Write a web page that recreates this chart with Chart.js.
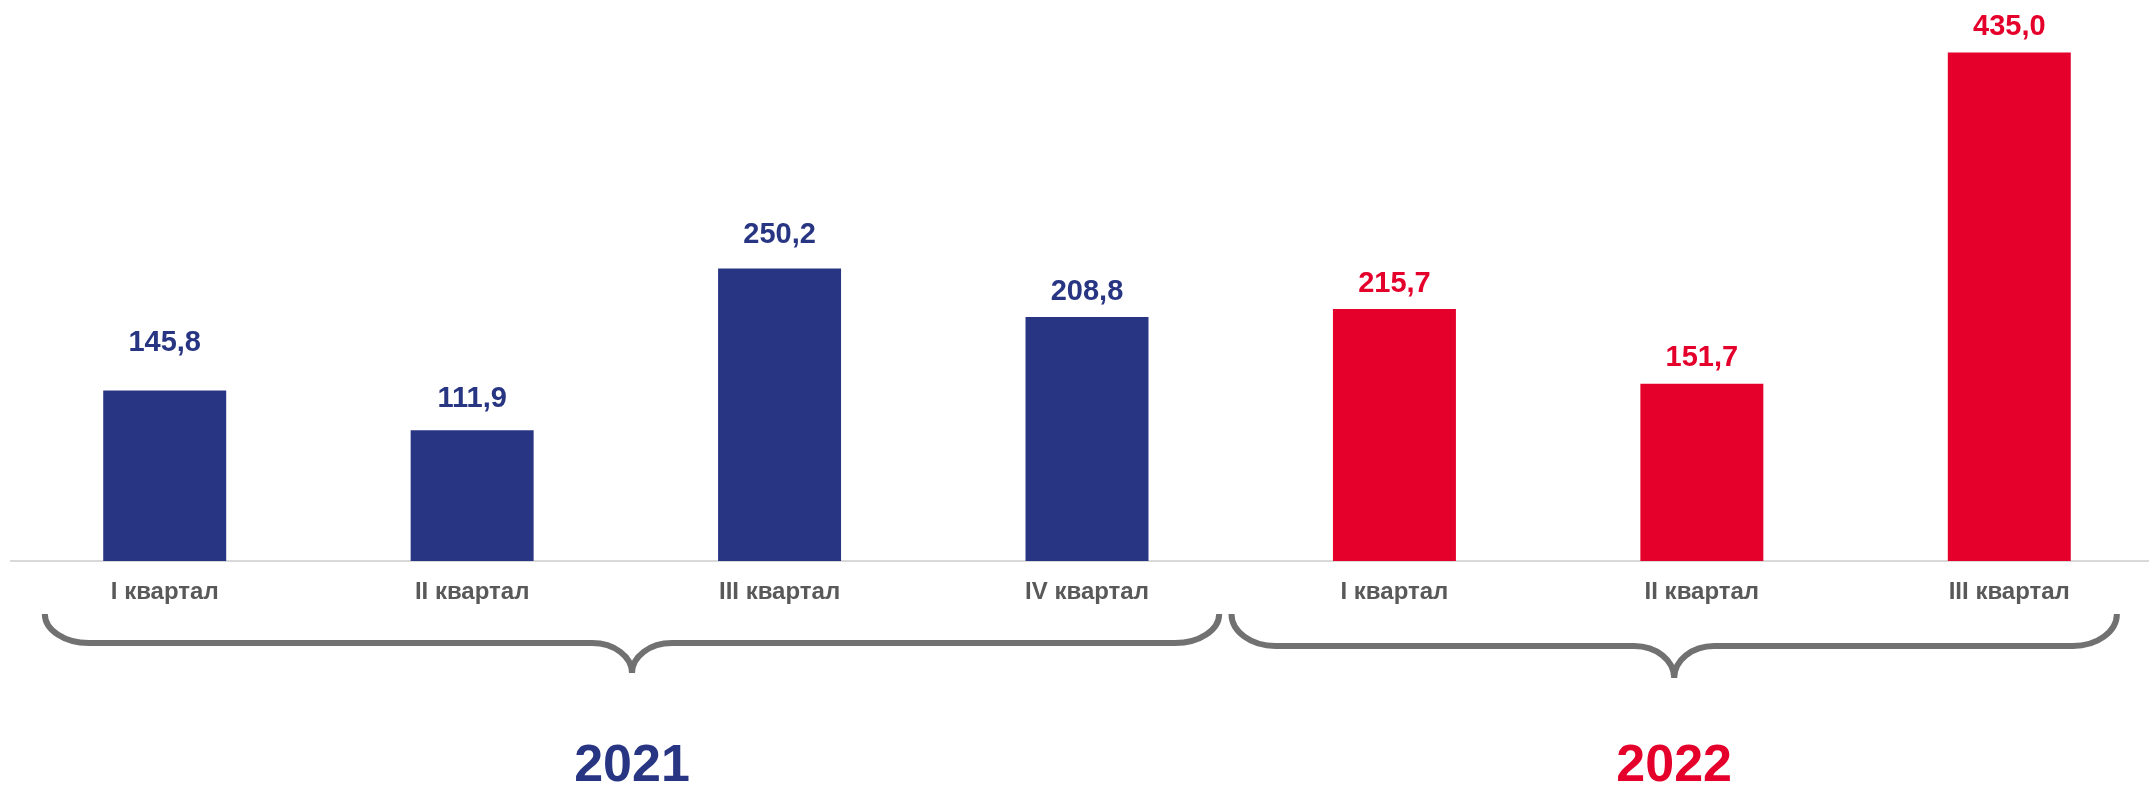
<!DOCTYPE html>
<html>
<head>
<meta charset="utf-8">
<script src="https://cdn.jsdelivr.net/npm/chart.js@4/dist/chart.umd.min.js"></script>
<style>
  html, body { margin: 0; padding: 0; background: #fff; overflow: hidden; }
  #wrap { width: 2149px; height: 786px; overflow: hidden; }
</style>
</head>
<body>
<div id="wrap"><canvas id="quarterChart" width="2163" height="786"></canvas></div>
<script>
// quarters and values
const quarters = ['I квартал', 'II квартал', 'III квартал', 'IV квартал', 'I квартал', 'II квартал', 'III квартал']
const values = [145.8, 111.9, 250.2, 208.8, 215.7, 151.7, 435.0]
const years = ['2021', '2022']
const yearOfBar = [0, 0, 0, 0, 1, 1, 1]

const yearColors = ['#283583', '#E4002B']
const braceColor = '#717171'
const font = '"Liberation Sans", Arial, sans-serif'

// brace spans in category units (left, right) per year
const braceSpans = [[-0.39, 3.43], [3.47, 6.35]]
// gap between label baseline and bar top (labels were placed by hand in the original)
const labelGaps = [40, 23, 26, 17, 17, 18, 18]

const fmt = v => v.toFixed(1).replace('.', ',')

const valueLabels = {
  id: 'valueLabels',
  afterDatasetsDraw(chart) {
    const ctx = chart.ctx
    const meta = chart.getDatasetMeta(0)
    ctx.save()
    ctx.font = 'bold 29px ' + font
    ctx.textAlign = 'center'
    ctx.textBaseline = 'alphabetic'
    meta.data.forEach((bar, i) => {
      ctx.fillStyle = yearColors[yearOfBar[i]]
      ctx.fillText(fmt(values[i]), bar.x, bar.y - labelGaps[i])
    })
    ctx.restore()
  }
}

const yearBraces = {
  id: 'yearBraces',
  afterDraw(chart) {
    const ctx = chart.ctx
    const xs = chart.scales.x
    const top = 614
    const lineYs = [643, 646]
    const tipYs = [673, 678]
    ctx.save()
    ctx.strokeStyle = braceColor
    ctx.lineWidth = 6
    braceSpans.forEach((span, k) => {
      const x0 = xs.getPixelForValue(span[0])
      const x1 = xs.getPixelForValue(span[1])
      const mid = (x0 + x1) / 2
      const lineY = lineYs[k]
      const tipY = tipYs[k]
      const rx = 44
      const ry = lineY - top
      const rx2 = 40
      const ry2 = tipY - lineY
      ctx.beginPath()
      ctx.moveTo(x0, top)
      ctx.ellipse(x0 + rx, top, rx, ry, 0, Math.PI, Math.PI / 2, true)
      ctx.lineTo(mid - rx2, lineY)
      ctx.ellipse(mid - rx2, tipY, rx2, ry2, 0, -Math.PI / 2, 0, false)
      ctx.ellipse(mid + rx2, tipY, rx2, ry2, 0, Math.PI, Math.PI * 1.5, false)
      ctx.lineTo(x1 - rx, lineY)
      ctx.ellipse(x1 - rx, top, rx, ry, 0, Math.PI / 2, 0, true)
      ctx.stroke()

      ctx.font = 'bold 52px ' + font
      ctx.textAlign = 'center'
      ctx.textBaseline = 'alphabetic'
      ctx.fillStyle = yearColors[k]
      ctx.fillText(years[k], mid, 781)
    })
    ctx.restore()
  }
}

const ctx = document.getElementById('quarterChart')
new Chart(ctx, {
  type: 'bar',
  data: {
    labels: quarters,
    datasets: [{
      data: values,
      backgroundColor: yearOfBar.map(y => yearColors[y]),
      borderWidth: 0,
      barPercentage: 0.4,
      categoryPercentage: 1
    }]
  },
  options: {
    responsive: false,
    animation: false,
    layout: { padding: { left: 11, right: 0, top: 0, bottom: 0 } },
    plugins: {
      legend: { display: false },
      tooltip: { enabled: false }
    },
    scales: {
      x: {
        offset: true,
        grid: { display: false, drawTicks: false },
        border: { display: true, color: '#d9d9d9', width: 2 },
        ticks: {
          color: '#595959',
          font: { family: font, size: 24, weight: 'bold' },
          padding: 17,
          maxRotation: 0,
          autoSkip: false
        },
        afterFit(scale) { scale.height = 225 }
      },
      y: {
        display: false,
        min: 0,
        max: 480
      }
    }
  },
  plugins: [valueLabels, yearBraces]
})
</script>
</body>
</html>
